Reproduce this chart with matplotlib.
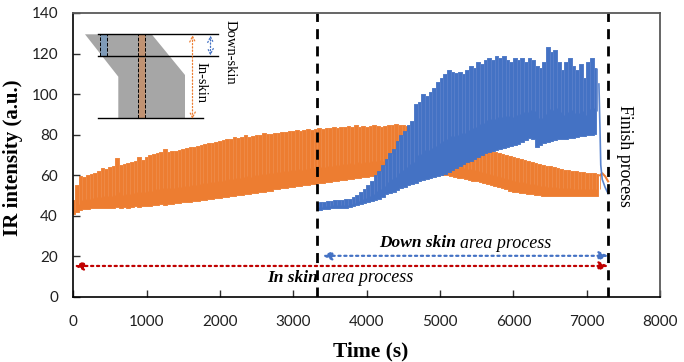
import numpy as np
import matplotlib
matplotlib.use("Agg")
import matplotlib.pyplot as plt
from matplotlib.patches import Polygon, Rectangle

# in-skin signal, envelope every 50 s
orange_t = np.arange(0, 7200, 50)
orange_hi = [48, 55, 59.5, 59, 60, 60.5, 61, 62, 63.5, 63,
             64, 64.5, 68.5, 65, 65.5, 66, 66.5, 67, 69, 67.5,
             69, 70, 70.5, 71, 71.5, 73, 71.5, 72, 72, 72.5,
             73, 73.5, 74, 74, 74.5, 75, 75.5, 76, 76, 76.5,
             77, 77.5, 78, 78, 79, 78.5, 79, 80, 79, 79.5,
             80, 80, 81, 80.5, 80.5, 81, 81, 81.5, 81.5, 82,
             82, 82.5, 82, 82.5, 83, 82.5, 83, 83.5, 83, 83.5,
             83.5, 84, 83.5, 84, 84, 84.5, 84, 85, 84, 84.5,
             84, 84.5, 85, 84.5, 84, 84.5, 85, 85, 85.5, 85,
             85, 84.5, 84, 83, 82, 81.5, 81, 80.5, 80, 79.5,
             79, 78.5, 78, 77.5, 77, 76.5, 76, 75.5, 75, 74.5,
             74, 73.5, 73, 72.5, 72, 71.5, 71, 70.5, 70, 69.5,
             69, 68.5, 68, 67.5, 67, 66.5, 66, 65.5, 65, 64.8,
             64.5, 64, 63.5, 63, 62.8, 62.5, 62.2, 62, 61.8, 61.5,
             61.3, 61, 61, 60.8]
orange_lo = [41, 42, 43, 43.5, 43.5, 44, 44, 44, 44, 44,
             44, 44, 44.5, 44, 44.5, 44, 44.5, 45, 44.5, 45,
             45, 45, 45.5, 45.5, 46, 45.5, 46, 46, 46.5, 46.5,
             47, 47, 47, 47.5, 47.5, 48, 48, 48.5, 48.5, 49,
             49, 49.5, 49.5, 50, 50, 50.5, 50.5, 51, 51, 51.5,
             51.5, 52, 52, 52.5, 52.5, 53, 53, 53.5, 53.5, 54,
             54, 54.5, 54.5, 55, 55, 55.5, 55.5, 56, 56, 56.5,
             56.5, 57, 57, 57.5, 57.5, 58, 58, 58.5, 58.5, 59,
             59, 59.5, 59.5, 60, 60, 60, 60.5, 60.5, 60.5, 60.5,
             60.5, 60.5, 60.5, 60.5, 60.5, 60.5, 60.5, 60.5, 60.5, 60.5,
             60.5, 60.3, 60, 59.5, 59, 58.8, 58.5, 58, 57.7, 57.4,
             57, 56.5, 56, 55.5, 55, 54.5, 54, 53.5, 53, 52.5,
             52, 51.8, 51.5, 51.3, 51, 50.8, 50.5, 50.3, 50, 50,
             49.8, 49.8, 49.7, 49.7, 49.7, 49.7, 49.7, 49.7, 49.7, 49.7,
             49.7, 49.8, 50, 50]
orange_tail_t = [7180, 7210, 7250, 7290]
orange_tail = [60, 61, 59.5, 57]

# down-skin signal, every 50 s from 3320 s
blue_t = np.arange(3320, 7170, 50)
blue_hi = [46.5, 47, 47, 47.5, 47.5, 48, 48, 48, 48.5, 48.5,
           49.5, 50.5, 52, 53, 55, 57, 60, 62, 65, 68,
           71, 73, 77, 80, 82, 85, 87, 95, 96, 100,
           99, 101, 103, 106, 108, 110, 112, 111, 110.5, 111,
           110, 112, 114, 113, 116, 115, 117, 118, 117, 119,
           118, 119, 117, 116, 118, 117, 118, 116, 118, 117,
           114, 113, 116, 123, 121, 122, 116, 112, 116, 118,
           114, 112, 115, 108, 116, 118, 113]
blue_lo = [43, 43, 43.5, 43.5, 44, 44, 44, 44, 44, 44.2,
           45, 45.5, 46, 46.5, 47, 47.5, 48, 48.5, 49.5, 50.7,
           51.4, 52, 52.8, 53.5, 54.3, 55, 55.7, 56.4, 57, 57.5,
           58, 58.5, 59, 59.5, 60, 60.8, 61.5, 62.5, 63.5, 64.5,
           65.5, 66.5, 67, 68, 69, 70, 71, 71.5, 72, 72.5,
           73, 73.5, 74, 74.3, 74.7, 75.5, 76.5, 77.5, 78.5, 78,
           74, 75, 76, 76.5, 77, 77.5, 78, 78, 78, 78.5,
           78.5, 79, 79.3, 79.6, 80, 80, 80.5]
blue_tail_t = [7165, 7178, 7190, 7210, 7250, 7290]
blue_tail = [105, 85, 65, 58, 54, 51]

start_down = 3318
end_process = 7290

xticks = [0, 1000, 2000, 3000, 4000, 5000, 6000, 7000, 8000]
yticks = [0, 20, 40, 60, 80, 100, 120, 140]

ORANGE = "#ED7D31"
BLUE = "#4472C4"
SERIF = "Liberation Serif"

fig = plt.figure(figsize=(6.84, 3.62), dpi=100)
ax = fig.add_axes([73.2 / 684, 1 - 297 / 362, 587 / 684, 284 / 362])

# orange band, blocky top like the sampled peaks
ax.fill_between(orange_t, orange_lo, orange_hi, color=ORANGE, lw=0.6, step="mid", zorder=1)
orange_mid = np.array(orange_lo) + 0.3 * (np.array(orange_hi) - np.array(orange_lo))
ax.vlines(orange_t + 25, orange_mid, orange_hi, color="#EF8C4A", lw=0.6, zorder=1.1)
ax.plot(orange_tail_t, orange_tail, color=ORANGE, lw=1.5, zorder=1.1)

# blue band on top, vlines default to zorder 2 so set it by hand
ax.fill_between(blue_t, blue_lo, blue_hi, color=BLUE, lw=0.6, step="mid", zorder=1.2)
blue_mid = np.array(blue_lo) + 0.35 * (np.array(blue_hi) - np.array(blue_lo))
ax.vlines(blue_t + 25, blue_mid, blue_hi, color="#5A80CA", lw=0.6, zorder=1.3)
ax.plot(blue_tail_t, blue_tail, color="#5B85CF", lw=1.2, zorder=1.3)

ax.set_xlim(0, 8000)
ax.set_ylim(0, 140)
ax.set_xticks(xticks)
ax.set_yticks(yticks)
ax.tick_params(direction="in", length=4.8, width=1, color="#303030", labelsize=11)
ax.tick_params(axis="x", pad=13)
ax.tick_params(axis="y", pad=11)
for lab in ax.get_xticklabels() + ax.get_yticklabels():
    lab.set_family("Lato")
    lab.set_color("#202020")
for side in ["left", "bottom"]:
    ax.spines[side].set_color("black")
    ax.spines[side].set_linewidth(1.2)
for side in ["top", "right"]:
    ax.spines[side].set_color("#595959")
    ax.spines[side].set_linewidth(1.3)

ax.axvline(start_down, color="black", lw=2, ls=(0, (3.6, 2.6)))
ax.axvline(end_process, color="black", lw=2, ls=(0, (3.6, 2.6)))

# process range arrows
ax.annotate("", xy=(3400, 20.3), xytext=(end_process, 20.3),
            arrowprops=dict(arrowstyle="<|-|>", color=BLUE, ls=":", lw=1.6, shrinkA=0, shrinkB=0, mutation_scale=13))
ax.annotate("", xy=(15, 15.3), xytext=(end_process, 15.3),
            arrowprops=dict(arrowstyle="<|-|>", color="#C00000", ls=":", lw=1.6, shrinkA=0, shrinkB=0, mutation_scale=13))

# overlay in pixel coordinates for the inset sketch and the notes
ov = fig.add_axes([0, 0, 1, 1], facecolor="none")
ov.set_xlim(0, 684)
ov.set_ylim(362, 0)
ov.axis("off")

ov.add_patch(Polygon([(85, 34.3), (151.7, 34.3), (185, 75), (185, 118.3), (118.3, 118.3), (118.3, 76.7)],
                     color="#A6A6A6", lw=0))
ov.add_patch(Rectangle((99.5, 34.3), 7, 22, fc="#7F9BB8", ec="black", lw=0.7, ls="--"))
ov.add_patch(Rectangle((137.5, 34.3), 7, 84, fc="#C09272", ec="black", lw=0.7, ls="--"))
ov.plot([97.5, 218], [34.3, 34.3], color="black", lw=1)
ov.plot([97.5, 218], [56.3, 56.3], color="black", lw=1)
ov.plot([97.5, 203], [118.3, 118.3], color="black", lw=1)
ov.annotate("", xy=(192.5, 35), xytext=(192.5, 119),
            arrowprops=dict(arrowstyle="<->", color=ORANGE, ls=":", lw=0.9, shrinkA=0, shrinkB=0))
ov.annotate("", xy=(210.5, 35.5), xytext=(210.5, 55.5),
            arrowprops=dict(arrowstyle="<->", color=BLUE, ls=":", lw=0.9, shrinkA=0, shrinkB=0))
ov.text(230, 52, "Down-skin", rotation=270, family=SERIF, fontsize=10.5, ha="center", va="center")
ov.text(201, 83, "In-skin", rotation=270, family=SERIF, fontsize=10.5, ha="center", va="center")

ov.text(625, 156, "Finish process", rotation=270, family=SERIF, fontsize=12.8, ha="center", va="center")
ov.text(456, 243, "Down skin", family=SERIF, style="italic", weight="bold", fontsize=12.5, ha="right", va="center")
ov.text(460, 243, "area process", family=SERIF, style="italic", fontsize=13, ha="left", va="center")
ov.text(318, 278, "In skin", family=SERIF, style="italic", weight="bold", fontsize=12.5, ha="right", va="center")
ov.text(322, 278, "area process", family=SERIF, style="italic", fontsize=13, ha="left", va="center")

ov.text(13, 158, "IR intensity (a.u.)", rotation=90, family=SERIF, weight="bold", fontsize=15, ha="center", va="center")
ov.text(371, 351, "Time (s)", family=SERIF, weight="bold", fontsize=15.5, ha="center", va="center")

fig.savefig("out.png", dpi=100)
